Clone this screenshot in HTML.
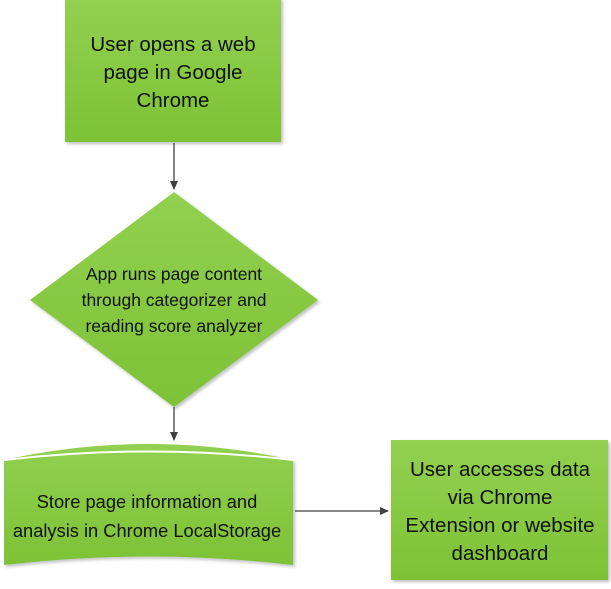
<!DOCTYPE html>
<html><head><style>
body{margin:0;background:#fff;width:611px;height:584px;overflow:hidden}
svg text{font-family:"Liberation Sans",sans-serif;fill:#111}
</style></head><body>
<svg width="611" height="584" viewBox="0 0 611 584">
<defs>
<linearGradient id="g" x1="0" y1="0" x2="0" y2="1"><stop offset="0" stop-color="#92d050"/><stop offset="1" stop-color="#7dc236"/></linearGradient>
<filter id="s" x="-5%" y="-5%" width="115%" height="115%"><feDropShadow dx="2" dy="2" stdDeviation="1.5" flood-color="#000" flood-opacity="0.25"/></filter>
<marker id="a" markerWidth="10" markerHeight="10" refX="8" refY="4" orient="auto" markerUnits="userSpaceOnUse"><path d="M0,0 L9,4 L0,8 Z" fill="#404040"/></marker>
</defs>
<rect x="65" y="-2" width="216" height="144" fill="url(#g)" filter="url(#s)"/>
<text text-anchor="middle" font-size="20.5"><tspan x="173" y="51">User opens a web</tspan><tspan x="173" y="79">page in Google</tspan><tspan x="173" y="107">Chrome</tspan></text>
<line x1="174" y1="143" x2="174" y2="189" stroke="#404040" stroke-width="1.3" marker-end="url(#a)"/>
<polygon points="174,192 318,300 174,407 30,300" fill="url(#g)" filter="url(#s)"/>
<text text-anchor="middle" font-size="17.5"><tspan x="174" y="280">App runs page content</tspan><tspan x="174" y="306">through categorizer and</tspan><tspan x="174" y="332">reading score analyzer</tspan></text>
<line x1="174" y1="407" x2="174" y2="440" stroke="#404040" stroke-width="1.3" marker-end="url(#a)"/>
<path d="M4,460 Q148,428 293,460 L293,565 Q148,548 4,565 Z" fill="url(#g)" filter="url(#s)"/>
<path d="M4,460 Q148,443 293,460" fill="none" stroke="#fff" stroke-width="2"/>
<text text-anchor="middle" font-size="18.3"><tspan x="147" y="508">Store page information and</tspan><tspan x="147" y="537">analysis in Chrome LocalStorage</tspan></text>
<line x1="295" y1="511" x2="388" y2="511" stroke="#404040" stroke-width="1.3" marker-end="url(#a)"/>
<rect x="391" y="440" width="217" height="140" fill="url(#g)" filter="url(#s)"/>
<text text-anchor="middle" font-size="20.5"><tspan x="500" y="476">User accesses data</tspan><tspan x="500" y="504">via Chrome</tspan><tspan x="500" y="532">Extension or website</tspan><tspan x="500" y="560">dashboard</tspan></text>
</svg>
</body></html>
